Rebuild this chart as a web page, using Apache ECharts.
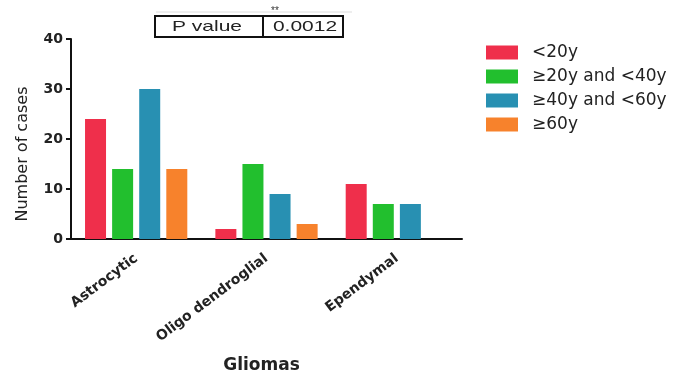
<!DOCTYPE html>
<html>
<head>
<meta charset="utf-8">
<style>
  html, body { margin: 0; padding: 0; background: #fff; }
  #chart { width: 676px; height: 378px; }
</style>
<script src="https://cdn.jsdelivr.net/npm/echarts@6/dist/echarts.min.js"></script>
</head>
<body>
<div id="chart"></div>
<script>
// Glioma types and case counts per age group
const categories = ['Astrocytic', 'Oligo dendroglial', 'Ependymal'];
const seriesNames = ['<20y', '≥20y and <40y', '≥40y and <60y', '≥60y'];
const under20 = [24, 2, 11];
const from20to40 = [14, 15, 7];
const from40to60 = [30, 9, 7];
const over60 = [14, 3, 0];
const yTicks = { min: 0, max: 40, interval: 10 };
const pValue = '0.0012';
const stars = '**';

const colors = ['#ef2f4b', '#22bf2e', '#2890b2', '#f7822c'];
const wide = 'DejaVu Sans, Verdana, sans-serif';
const narrow = 'Liberation Sans, Arial, sans-serif';
const values = [under20, from20to40, from40to60, over60];

const chart = echarts.init(document.getElementById('chart'), null, { renderer: 'canvas' });

chart.setOption({
  animation: false,
  backgroundColor: '#fff',
  color: colors,
  textStyle: { fontFamily: wide },
  grid: { left: 71, right: 214, top: 39, bottom: 139, containLabel: false, outerBoundsMode: 'none' },
  legend: {
    orient: 'vertical',
    left: 481,
    top: 39,
    itemWidth: 32,
    itemHeight: 14,
    itemGap: 7,
    icon: 'rect',
    textStyle: { fontFamily: wide, fontSize: 17, lineHeight: 14, color: '#222', padding: [0, 0, 0, 9] },
    data: seriesNames
  },
  xAxis: {
    type: 'category',
    data: categories,
    name: 'Gliomas',
    nameLocation: 'middle',
    nameGap: 118,
    nameTextStyle: { fontFamily: wide, fontSize: 17, fontWeight: 'bold', color: '#222', padding: [0, 10, 0, 0] },
    axisLine: { lineStyle: { color: '#111', width: 2 } },
    axisTick: { alignWithLabel: true, length: 5, lineStyle: { color: '#111', width: 2 } },
    axisLabel: { rotate: 37, margin: 18, fontFamily: wide, fontSize: 14, fontWeight: 'bold', color: '#222' }
  },
  yAxis: {
    type: 'value',
    min: yTicks.min,
    max: yTicks.max,
    interval: yTicks.interval,
    name: 'Number of cases',
    nameLocation: 'middle',
    nameGap: 40,
    nameTextStyle: { fontFamily: wide, fontSize: 16, color: '#222', padding: [0, 30, 0, 0] },
    splitLine: { show: false },
    axisLine: { show: true, lineStyle: { color: '#111', width: 2 } },
    axisTick: { show: true, length: 5, lineStyle: { color: '#111', width: 2 } },
    axisLabel: { margin: 8, fontFamily: wide, fontSize: 14, fontWeight: 'bold', color: '#222' }
  },
  series: seriesNames.map((name, i) => ({
    name,
    type: 'bar',
    data: values[i],
    barWidth: 21,
    barGap: '29%',
    barCategoryGap: '21%',
    itemStyle: { color: colors[i] }
  })),
  graphic: [
    { type: 'line', shape: { x1: 156, y1: 12, x2: 352, y2: 12 }, style: { stroke: '#ddd', lineWidth: 1 } },
    { type: 'text', x: 275, y: 11, style: { text: stars, fontFamily: narrow, fontSize: 10, fill: '#333', align: 'center', verticalAlign: 'middle' } },
    { type: 'rect', shape: { x: 155, y: 16, width: 188, height: 21 }, style: { fill: '#fff', stroke: '#111', lineWidth: 2 } },
    { type: 'line', shape: { x1: 263, y1: 16, x2: 263, y2: 37 }, style: { stroke: '#111', lineWidth: 2 } },
    { type: 'text', x: 207, y: 27, scaleX: 1.4, style: { text: 'P value', fontFamily: narrow, fontSize: 15, fill: '#222', align: 'center', verticalAlign: 'middle' } },
    { type: 'text', x: 305, y: 27, scaleX: 1.4, style: { text: pValue, fontFamily: narrow, fontSize: 15, fill: '#222', align: 'center', verticalAlign: 'middle' } }
  ]
});
</script>
</body>
</html>
